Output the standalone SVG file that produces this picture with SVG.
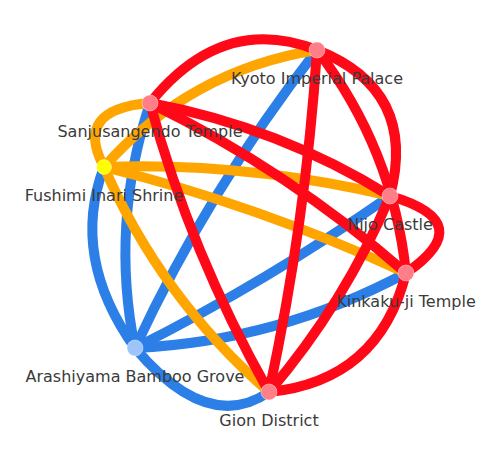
<svg xmlns="http://www.w3.org/2000/svg" width="504" height="468" viewBox="0 0 504 468">
<style>
.e{fill:none;stroke-width:10;stroke-linecap:round}
.b{stroke:#2d7fe8}
.o{stroke:#ffa500}
.r{stroke:#ff0818}
.n{stroke-width:1;stroke:#ffffff;stroke-opacity:0.4}
.nr{fill:#ff7e88}
.lbl{font-family:"DejaVu Sans","Liberation Sans",sans-serif;font-size:16px;fill:#3a3a3a;text-anchor:middle}
</style>
<rect width="504" height="468" fill="#ffffff"/>
<g id="connectors">
<path class="e b" d="M135,348 Q209,189 317,50"/>
<path class="e b" d="M135,348 Q110,225 150,103"/>
<path class="e b" d="M104,167 Q70,257 135,348"/>
<path class="e b" d="M135,348 Q208,434 269,392"/>
<path class="e b" d="M135,348 Q268,281 390,196"/>
<path class="e b" d="M135,348 Q279,341 406,273"/>
<path class="e o" d="M104,167 Q190,70 317,50"/>
<path class="e o" d="M150,103 Q73,109 104,167"/>
<path class="e o" d="M104,167 Q245,162 390,196"/>
<path class="e o" d="M104,167 Q258,205 406,273"/>
<path class="e o" d="M104,167 Q161,298 269,392"/>
<path class="e r" d="M150,103 Q222,13 317,50"/>
<path class="e r" d="M317,50 Q418,90 390,196"/>
<path class="e r" d="M317,50 Q393,149 406,273"/>
<path class="e r" d="M390,196 Q480,222 406,273"/>
<path class="e r" d="M150,103 Q279,127 390,196"/>
<path class="e r" d="M150,103 Q289,171 406,273"/>
<path class="e r" d="M317,50 Q306,220 269,392"/>
<path class="e r" d="M150,103 Q190,252 269,392"/>
<path class="e r" d="M390,196 Q345,303 269,392"/>
<path class="e r" d="M406,273 Q379,381 269,392"/>
</g>
<g id="node-kyoto"><circle class="n nr" cx="317" cy="50" r="8"/><text class="lbl" x="317" y="84">Kyoto Imperial Palace</text></g>
<g id="node-sanjusangendo"><circle class="n nr" cx="150" cy="103" r="8"/><text class="lbl" x="150" y="137">Sanjusangendo Temple</text></g>
<g id="node-fushimi"><circle class="n" fill="#ffff00" cx="104" cy="167" r="7.5"/><text class="lbl" x="104" y="201">Fushimi Inari Shrine</text></g>
<g id="node-nijo"><circle class="n nr" cx="390" cy="196" r="8"/><text class="lbl" x="390" y="230">Nijo Castle</text></g>
<g id="node-kinkakuji"><circle class="n nr" cx="406" cy="273" r="8"/><text class="lbl" x="406" y="307">Kinkaku-ji Temple</text></g>
<g id="node-arashiyama"><circle class="n" fill="#9ec5fb" cx="135" cy="348" r="8"/><text class="lbl" x="135" y="382">Arashiyama Bamboo Grove</text></g>
<g id="node-gion"><circle class="n nr" cx="269" cy="392" r="8"/><text class="lbl" x="269" y="426">Gion District</text></g>
</svg>
